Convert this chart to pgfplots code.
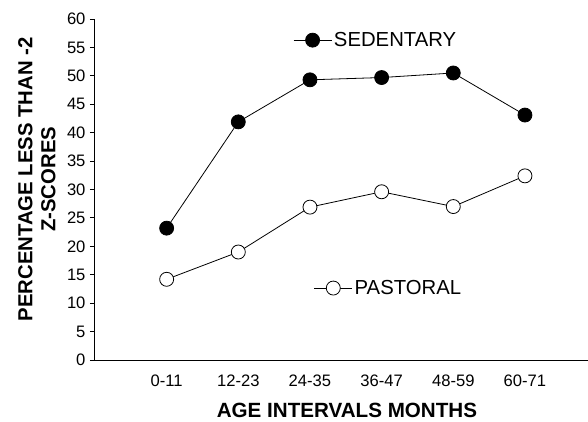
\documentclass[border=0pt]{standalone}
\usepackage{pgfplots}
\pgfplotsset{compat=1.18}
\usepackage{fontspec}
\setmainfont{Liberation Sans}
\begin{document}
\begin{tikzpicture}
\path[use as bounding box] (-95pt,-61pt) rectangle (493pt,360pt);
\pgfplotsset{
  base/.style={
    scale only axis, width=493pt, height=341pt,
    at={(0pt,0pt)}, anchor=south west,
    xmin=-1, xmax=5.88, ymin=0, ymax=60,
    legend style={draw=none, fill=none, inner sep=0pt, outer sep=0pt,
      font=\fontsize{20.3}{23}\selectfont, anchor=west},
    legend image code/.code={\draw[#1, mark repeat=2, mark phase=2] plot coordinates {(0pt,0pt)(19pt,0pt)(38pt,0pt)};},
  }
}
\begin{axis}[base,
  axis x line=bottom, axis y line=left,
  axis line style={-, line width=1pt},
  xtick={0,1,2,3,4,5},
  xticklabels={0-11,12-23,24-35,36-47,48-59,60-71},
  x tick style={draw=none},
  ytick={0,5,...,60},
  tick align=outside,
  y tick style={line width=1pt, black},
  major tick length=5pt,
  /pgf/number format/assume math mode=true,
  tick label style={font=\fontsize{16.6}{19}\selectfont},
  xticklabel style={yshift=-6pt},
  yticklabel style={xshift=-1pt},
  xlabel={AGE INTERVALS MONTHS},
  xlabel style={font=\bfseries\fontsize{20.6}{24}\selectfont, inner sep=0pt, at={(axis description cs:0.511,-0.148)}, anchor=center},
  ylabel={PERCENTAGE LESS THAN -2\\Z-SCORES},
  ylabel style={font=\bfseries\fontsize{20.3}{23}\selectfont, align=center, at={(axis description cs:-0.118,0.53)}, anchor=center},
  legend style={at={(axis description cs:0.402,0.938)}},
]
\addplot[black, line width=0.8pt, mark=*, mark size=7pt, mark options={fill=black}]
  coordinates {(0,23.2) (1,41.9) (2,49.3) (3,49.7) (4,50.5) (5,43.1)};
\addlegendentry{SEDENTARY}
\end{axis}
\begin{axis}[base, hide axis,
  legend style={at={(axis description cs:0.444,0.211)}},
]
\addplot[black, line width=0.8pt, mark=*, mark size=7pt, mark options={fill=white, line width=0.8pt}]
  coordinates {(0,14.2) (1,19.0) (2,26.9) (3,29.6) (4,27.0) (5,32.4)};
\addlegendentry{PASTORAL}
\end{axis}
\end{tikzpicture}
\end{document}
